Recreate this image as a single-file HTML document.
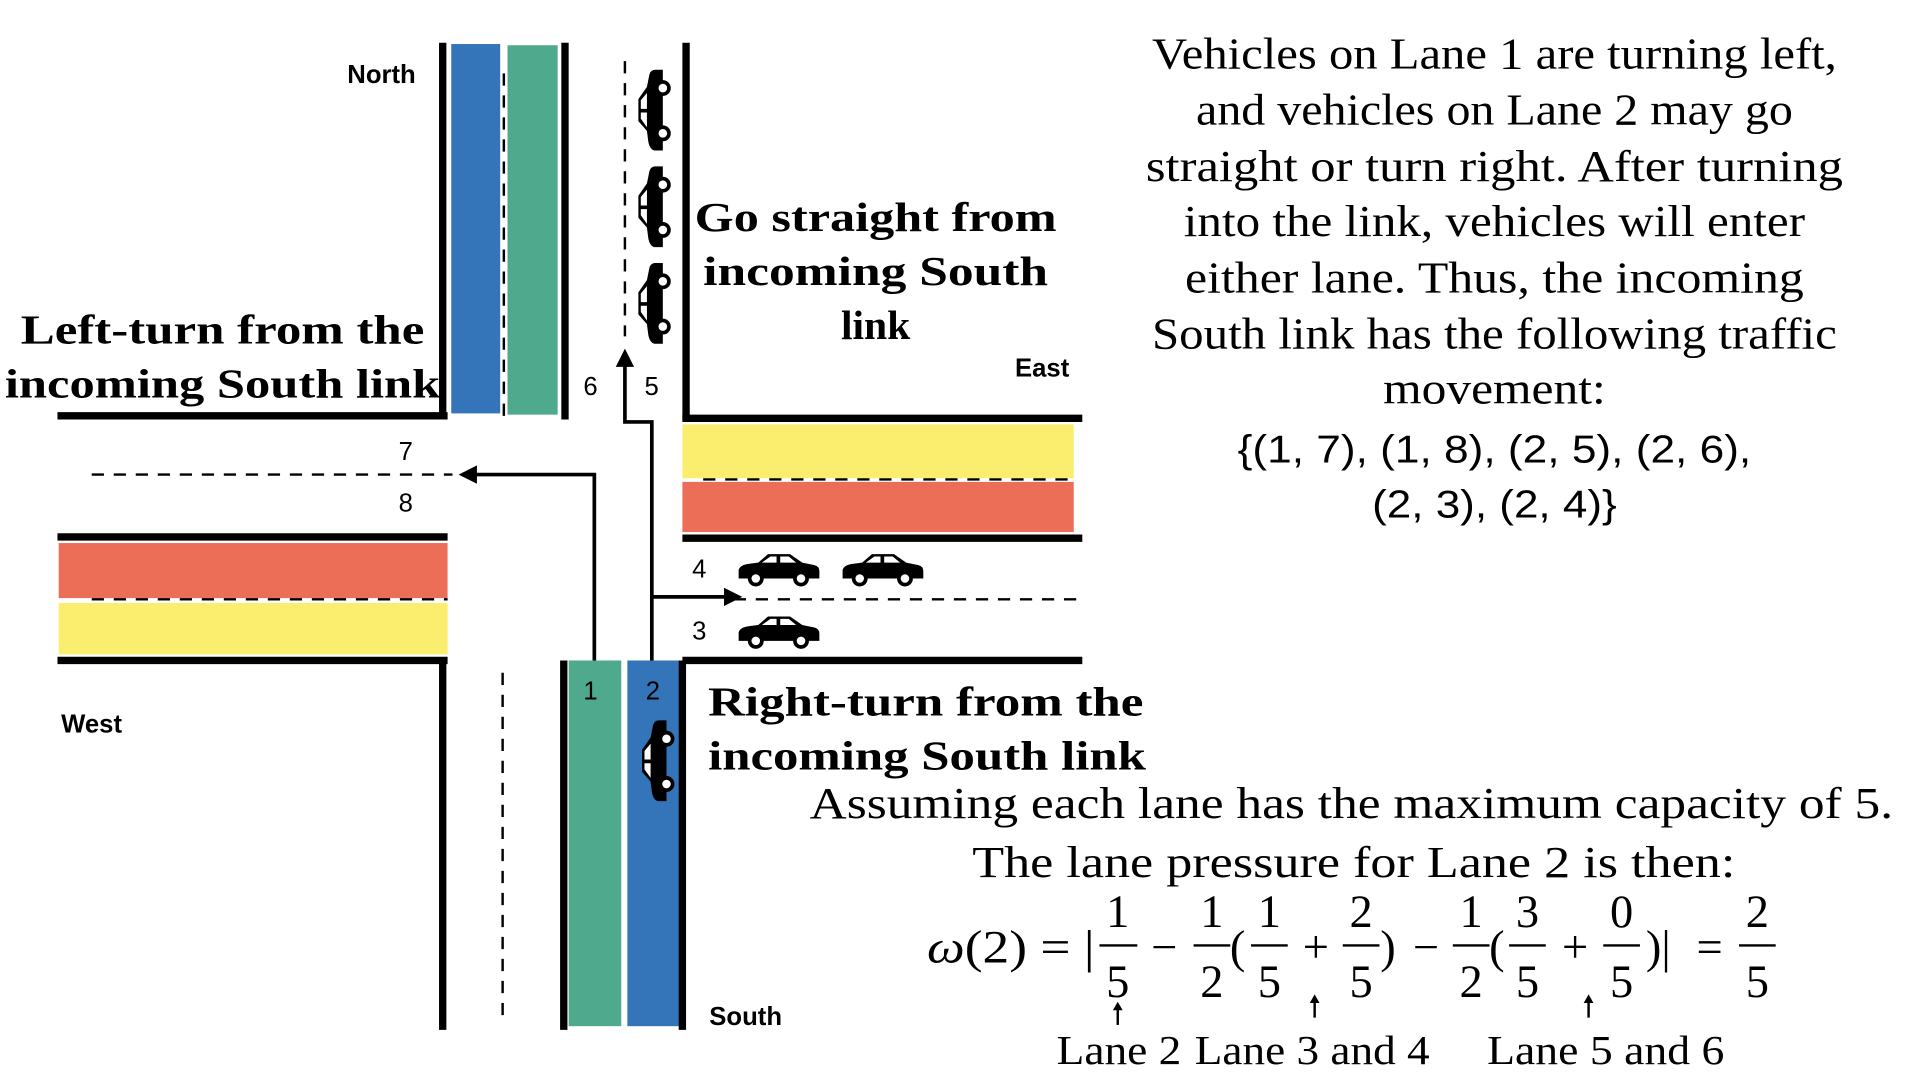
<!DOCTYPE html>
<html><head><meta charset="utf-8"><style>html,body{margin:0;padding:0;background:#fff;width:1920px;height:1080px;overflow:hidden}</style></head>
<body>
<svg width="1920" height="1080" viewBox="0 0 1570 883" preserveAspectRatio="none" xmlns="http://www.w3.org/2000/svg">
<defs>
<g id="car">
<path d="M2,22 L2,15 Q3,11 10,10 L18,9 L26,2 L44,2 L54,9 L64,11 Q68,12 68,16 L68,22 Z" fill="#000"/>
<path d="M21,9 L28,4 L33,4 L33,9 Z M36,4 L43,4 L49,9 L36,9 Z" fill="#fff"/>
<circle cx="16" cy="22" r="5" fill="#fff" stroke="#000" stroke-width="3"/>
<circle cx="53" cy="22" r="5" fill="#fff" stroke="#000" stroke-width="3"/>
</g>
<marker id="ah" viewBox="0 0 10 10" refX="8" refY="5" markerWidth="5" markerHeight="5" orient="auto"><path d="M0,0 L10,5 L0,10 Z" fill="#000"/></marker>
</defs>
<g font-family="Liberation Sans, sans-serif">
<rect x="369" y="36" width="40" height="302" fill="#3474b8"/>
<rect x="415" y="37" width="41" height="302" fill="#4ea98d"/>
<line x1="412" y1="60" x2="412" y2="340" stroke="#000" stroke-width="2" stroke-dasharray="10,8"/>
<line x1="362" y1="35" x2="362" y2="343" stroke="#000" stroke-width="6"/>
<line x1="462" y1="35" x2="462" y2="343" stroke="#000" stroke-width="6"/>
<line x1="511" y1="50" x2="511" y2="275" stroke="#000" stroke-width="2" stroke-dasharray="10,8"/>
<line x1="561" y1="35" x2="561" y2="343" stroke="#000" stroke-width="6"/>
<g transform="translate(520,125) rotate(-90)"><use href="#car"/></g>
<g transform="translate(520,204) rotate(-90)"><use href="#car"/></g>
<g transform="translate(520,283) rotate(-90)"><use href="#car"/></g>
<line x1="47" y1="340" x2="366" y2="340" stroke="#000" stroke-width="6"/>
<line x1="75" y1="388" x2="370" y2="388" stroke="#000" stroke-width="2" stroke-dasharray="10,8"/>
<rect x="48" y="444" width="318" height="45" fill="#ec6e56"/>
<rect x="48" y="493" width="318" height="42" fill="#fbed6e"/>
<line x1="75" y1="490" x2="366" y2="490" stroke="#000" stroke-width="2" stroke-dasharray="10,8"/>
<line x1="47" y1="439" x2="366" y2="439" stroke="#000" stroke-width="6"/>
<line x1="47" y1="540" x2="366" y2="540" stroke="#000" stroke-width="6"/>
<rect x="558" y="347" width="320" height="44" fill="#fbed6e"/>
<rect x="558" y="394" width="320" height="41" fill="#ec6e56"/>
<line x1="575" y1="392" x2="878" y2="392" stroke="#000" stroke-width="2" stroke-dasharray="10,8"/>
<line x1="558" y1="342" x2="885" y2="342" stroke="#000" stroke-width="6"/>
<line x1="558" y1="440" x2="885" y2="440" stroke="#000" stroke-width="6"/>
<line x1="600" y1="490" x2="880" y2="490" stroke="#000" stroke-width="2" stroke-dasharray="10,8"/>
<line x1="558" y1="540" x2="885" y2="540" stroke="#000" stroke-width="6"/>
<use href="#car" x="602" y="451"/>
<use href="#car" x="687" y="451"/>
<use href="#car" x="602" y="502"/>
<rect x="465" y="540" width="43" height="299" fill="#4ea98d"/>
<rect x="513" y="540" width="43" height="299" fill="#3474b8"/>
<line x1="511" y1="545" x2="511" y2="838" stroke="#fff" stroke-width="2" stroke-dasharray="10,8"/>
<line x1="362" y1="540" x2="362" y2="842" stroke="#000" stroke-width="6"/>
<line x1="411" y1="550" x2="411" y2="832" stroke="#000" stroke-width="2" stroke-dasharray="10,8"/>
<line x1="461" y1="540" x2="461" y2="842" stroke="#000" stroke-width="6"/>
<line x1="558" y1="540" x2="558" y2="842" stroke="#000" stroke-width="6"/>
<g transform="translate(523,657) rotate(-90)"><use href="#car"/></g>
<polyline points="486,540 486,388 378,388" fill="none" stroke="#000" stroke-width="3" marker-end="url(#ah)"/>
<polyline points="533,540 533,345 511,345 511,288" fill="none" stroke="#000" stroke-width="3" marker-end="url(#ah)"/>
<polyline points="533,488 604,488" fill="none" stroke="#000" stroke-width="3" marker-end="url(#ah)"/>
<g font-size="21" fill="#000">
<text x="284" y="68" font-weight="bold">North</text>
<text x="830" y="308" font-weight="bold">East</text>
<text x="50" y="599" font-weight="bold">West</text>
<text x="580" y="838" font-weight="bold">South</text>
<text x="477" y="323">6</text><text x="527" y="323">5</text>
<text x="326" y="376">7</text><text x="326" y="418">8</text>
<text x="566" y="472">4</text><text x="566" y="523">3</text>
<text x="477" y="572">1</text><text x="528" y="572">2</text>
</g>
</g>
<g font-family="Liberation Serif, serif" fill="#000">
<g font-weight="bold" font-size="34">
<text x="182" y="281" text-anchor="middle" textLength="330" lengthAdjust="spacingAndGlyphs">Left-turn from the</text>
<text x="182" y="325" text-anchor="middle" textLength="356" lengthAdjust="spacingAndGlyphs">incoming South link</text>
<text x="716" y="189" text-anchor="middle" textLength="296" lengthAdjust="spacingAndGlyphs">Go straight from</text>
<text x="716" y="233" text-anchor="middle" textLength="282" lengthAdjust="spacingAndGlyphs">incoming South</text>
<text x="716" y="277" text-anchor="middle">link</text>
<text x="579" y="585" textLength="356" lengthAdjust="spacingAndGlyphs">Right-turn from the</text>
<text x="579" y="629" textLength="358" lengthAdjust="spacingAndGlyphs">incoming South link</text>
</g>
<g font-size="36" text-anchor="middle">
<text x="1222" y="56" textLength="560" lengthAdjust="spacingAndGlyphs">Vehicles on Lane 1 are turning left,</text>
<text x="1222" y="102" textLength="488" lengthAdjust="spacingAndGlyphs">and vehicles on Lane 2 may go</text>
<text x="1222" y="148" textLength="570" lengthAdjust="spacingAndGlyphs">straight or turn right. After turning</text>
<text x="1222" y="193" textLength="508" lengthAdjust="spacingAndGlyphs">into the link, vehicles will enter</text>
<text x="1222" y="239" textLength="506" lengthAdjust="spacingAndGlyphs">either lane. Thus, the incoming</text>
<text x="1222" y="285" textLength="560" lengthAdjust="spacingAndGlyphs">South link has the following traffic</text>
<text x="1222" y="330" textLength="182" lengthAdjust="spacingAndGlyphs">movement:</text>
</g>
<g font-family="Liberation Sans, sans-serif" font-size="32" text-anchor="middle">
<text x="1222" y="378" textLength="420" lengthAdjust="spacingAndGlyphs">{(1, 7), (1, 8), (2, 5), (2, 6),</text>
<text x="1222" y="423" textLength="200" lengthAdjust="spacingAndGlyphs">(2, 3), (2, 4)}</text>
</g>
<g font-size="36">
<text x="662" y="669" textLength="886" lengthAdjust="spacingAndGlyphs">Assuming each lane has the maximum capacity of 5.</text>
<text x="795" y="717" textLength="624" lengthAdjust="spacingAndGlyphs">The lane pressure for Lane 2 is then:</text>
</g>
<g font-size="38" text-anchor="middle">
<text x="758" y="787" text-anchor="start" textLength="137" lengthAdjust="spacingAndGlyphs"><tspan font-style="italic">ω</tspan>(2) = |</text>
<text x="914" y="758">1</text><text x="914" y="815">5</text>
<text x="952" y="787">−</text>
<text x="991" y="758">1</text><text x="991" y="815">2</text>
<text x="1012" y="787">(</text>
<text x="1038" y="758">1</text><text x="1038" y="815">5</text>
<text x="1076" y="787">+</text>
<text x="1113" y="758">2</text><text x="1113" y="815">5</text>
<text x="1135" y="787">)</text>
<text x="1166" y="787">−</text>
<text x="1203" y="758">1</text><text x="1203" y="815">2</text>
<text x="1224" y="787">(</text>
<text x="1249" y="758">3</text><text x="1249" y="815">5</text>
<text x="1288" y="787">+</text>
<text x="1326" y="758">0</text><text x="1326" y="815">5</text>
<text x="1356" y="787">)|</text>
<text x="1398" y="787">=</text>
<text x="1437" y="758">2</text><text x="1437" y="815">5</text>
</g>
<g stroke="#000" stroke-width="2">
<line x1="899" y1="773" x2="930" y2="773"/>
<line x1="976" y1="773" x2="1006" y2="773"/>
<line x1="1023" y1="773" x2="1053" y2="773"/>
<line x1="1098" y1="773" x2="1128" y2="773"/>
<line x1="1188" y1="773" x2="1218" y2="773"/>
<line x1="1234" y1="773" x2="1264" y2="773"/>
<line x1="1311" y1="773" x2="1341" y2="773"/>
<line x1="1422" y1="773" x2="1452" y2="773"/>
<line x1="914" y1="838" x2="914" y2="824"/>
<line x1="1075" y1="832" x2="1075" y2="818"/>
<line x1="1299" y1="832" x2="1299" y2="818"/>
</g>
<g fill="#000">
<path d="M910,826 L914,819 L918,826 Z"/>
<path d="M1071,820 L1075,813 L1079,820 Z"/>
<path d="M1295,820 L1299,813 L1303,820 Z"/>
</g>
<g font-size="34" text-anchor="middle">
<text x="915" y="870" textLength="102" lengthAdjust="spacingAndGlyphs">Lane 2</text>
<text x="1073" y="870" textLength="192" lengthAdjust="spacingAndGlyphs">Lane 3 and 4</text>
<text x="1313" y="870" textLength="194" lengthAdjust="spacingAndGlyphs">Lane 5 and 6</text>
</g>
</g>
</svg>
</body></html>
